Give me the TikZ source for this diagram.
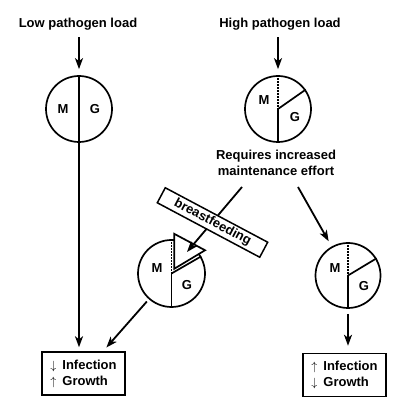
\documentclass[tikz,border=0pt]{standalone}
\usepackage{fontspec}
\setmainfont{Liberation Sans}
\usetikzlibrary{arrows.meta,calc}
\tikzset{
  lbl/.style={font=\fontsize{13}{16}\selectfont\bfseries, align=center},
  pie/.style={circle, draw, line width=1.7pt, minimum size=66pt, inner sep=0pt},
  outcome/.style={draw, line width=1.5pt, minimum width=83pt, minimum height=43pt,
    align=left, font=\fontsize{13}{16}\selectfont\bfseries},
  flow/.style={line width=1.8pt, -{Stealth[length=11pt,width=8pt,inset=3pt]}},
  part/.style={line width=1.7pt},
  gap/.style={line width=1.7pt, dash pattern=on 1.5pt off 1.5pt},
}
\begin{document}
\begin{tikzpicture}[x=1pt,y=1pt]
    \useasboundingbox (0,0) rectangle (403,414);

        % Draw the two starting conditions
    \node[lbl, anchor=base] (low) at (78,386) {Low pathogen load};
    \node[lbl, anchor=base] (high) at (280,386) {High pathogen load};

        % Draw the pies
    \node[pie] (c1) at (79,305) {};
    \node[pie] (c2) at (278,305) {};
    \node[lbl] (req) at (276,251) {Requires increased\\maintenance effort};
    \node[pie, minimum size=67pt] (c3) at (171.5,140.5) {};
    \node[pie, minimum size=65pt] (c4) at (348,138.5) {};

        % Split the pies into M and G
    \draw[part] (c1.north) -- (c1.south);
    \draw[gap] (c2.north) -- (c2.center);
    \draw[part] (c2.center) -- (c2.south);
    \draw[part] (c2.center) -- (c2.35);
    \draw[gap] (c3.north) -- (c3.center);
    \draw[part] (c3.center) -- (c3.south);
    \draw[part] (c3.center) -- (c3.30);
    \draw[gap] (c4.north) -- (c4.center);
    \draw[part] (c4.center) -- (c4.south);
    \draw[part] (c4.center) -- (c4.31);

        % The extra slice given by breastfeeding
    \coordinate (wedge) at ($(c3.center)+(2.7,4.7)$);
    \filldraw[part, fill=white, line join=miter] (wedge) -- ++(0,35) -- ($(wedge)+(31:36)$) -- cycle;

    \node[lbl] (m1) at ($(c1)+(-16,0)$) {M};
    \node[lbl] (g1) at ($(c1)+(16,0)$) {G};
    \node[lbl] (m2) at ($(c2)+(-14,9)$) {M};
    \node[lbl] (g2) at ($(c2)+(17,-8)$) {G};
    \node[lbl] (m3) at ($(c3)+(-14.5,5.5)$) {M};
    \node[lbl] (g3) at ($(c3)+(15.5,-11.5)$) {G};
    \node[lbl] (m4) at ($(c4)+(-13,7.5)$) {M};
    \node[lbl] (g4) at ($(c4)+(16,-10.5)$) {G};

        % Draw the outcomes
    \node[outcome] (out1) at (83.5,40.5) {$\downarrow$\hspace{6pt}Infection\\$\uparrow$\hspace{6pt}Growth};
    \node[outcome] (out2) at (344.5,39) {$\uparrow$\hspace{6pt}Infection\\$\downarrow$\hspace{6pt}Growth};

        % Draw the arrows
    \coordinate (reqL) at (242,227);
    \coordinate (reqR) at (298,227);
    \coordinate (feedtip) at (187,162);
    \draw[flow, shorten <=3pt, shorten >=6pt] (c1 |- low.south) -- (c1);
    \draw[flow, shorten <=3pt, shorten >=6pt] (c2 |- high.south) -- (c2);
    \draw[flow, shorten >=4pt] (c1) -- (c1 |- out1.north);
    \draw[flow] (reqL) -- (feedtip);
    \draw[flow, shorten >=6pt] (reqR) -- (c4);
    \draw[flow, shorten <=3pt, shorten >=5pt] (c3) -- (out1);
    \draw[flow, shorten <=5pt, shorten >=7pt] (c4) -- (c4 |- out2.north);

        % Label on the breastfeeding arrow
    \node[lbl, draw, fill=white, line width=1.5pt, rotate=-28, minimum width=116pt,
      minimum height=17pt, inner sep=1pt] (feed) at (212.5,191.5) {breastfeeding};
\end{tikzpicture}
\end{document}
